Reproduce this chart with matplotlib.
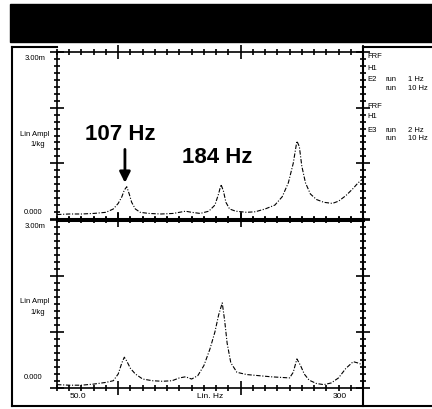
import matplotlib
matplotlib.use("Agg")
import matplotlib.pyplot as plt
from matplotlib.lines import Line2D
from matplotlib.patches import Rectangle
from matplotlib.ticker import MultipleLocator

plt.rcParams['font.family'] = ['Liberation Sans', 'DejaVu Sans']

# frequency (Hz) and amplitude (1e-3 1/kg)
top_freq = [50, 60, 70, 80, 90, 96, 100, 103, 105, 107, 109, 111, 114, 118, 125,
            135, 145, 155, 160, 167, 174, 179, 182, 184, 186, 188, 191, 196, 205,
            212, 220, 228, 234, 239, 243, 246, 248, 250, 253, 257, 262, 268, 275,
            280, 286, 292, 296, 300]
top_amp = [0.08, 0.09, 0.09, 0.10, 0.12, 0.18, 0.28, 0.40, 0.52, 0.58, 0.45, 0.30,
           0.18, 0.12, 0.10, 0.09, 0.10, 0.14, 0.12, 0.10, 0.14, 0.25, 0.45, 0.62,
           0.50, 0.30, 0.18, 0.14, 0.12, 0.13, 0.18, 0.25, 0.40, 0.65, 1.00, 1.40,
           1.30, 0.95, 0.65, 0.45, 0.35, 0.30, 0.28, 0.32, 0.42, 0.55, 0.65, 0.72]

bot_freq = [50, 60, 70, 80, 90, 96, 100, 103, 105, 107, 110, 114, 120, 128, 136,
            144, 150, 155, 160, 165, 170, 175, 179, 182, 185, 187, 189, 192, 197,
            205, 215, 225, 240, 243, 246, 249, 252, 256, 262, 268, 274, 280, 286,
            292, 297, 300]
bot_amp = [0.06, 0.05, 0.05, 0.07, 0.10, 0.13, 0.25, 0.45, 0.55, 0.48, 0.35, 0.25,
           0.16, 0.13, 0.12, 0.13, 0.18, 0.20, 0.16, 0.22, 0.40, 0.70, 1.00, 1.30,
           1.52, 1.20, 0.80, 0.45, 0.28, 0.24, 0.22, 0.20, 0.18, 0.28, 0.52, 0.40,
           0.25, 0.14, 0.08, 0.06, 0.09, 0.18, 0.35, 0.47, 0.44, 0.40]

legend_lines = ["FRF", "H1", "E2", "FRF", "H1", "E3"]
legend_runs = [("run", "1 Hz"), ("run", "10 Hz"), ("run", "2 Hz"), ("run", "10 Hz")]

W, H = 432, 410
fig = plt.figure(figsize=(W / 100, H / 100), dpi=100)


def rect(x0, y0, x1, y1):
    return [x0 / W, 1 - y1 / H, (x1 - x0) / W, (y1 - y0) / H]


def px(x, y):
    return x / W, 1 - y / H


# black title band
fig.patches.append(Rectangle(px(10, 43), (W - 10) / W, 38 / H, transform=fig.transFigure,
                             color="black", zorder=0))

ax1 = fig.add_axes(rect(57, 53, 363, 220))
ax2 = fig.add_axes(rect(57, 221, 363, 389))

for ax, f, a in [(ax1, top_freq, top_amp), (ax2, bot_freq, bot_amp)]:
    ax.plot(f, [v * 1e-3 for v in a], color="black", lw=0.8,
            linestyle=(0, (4, 1.5, 1, 1.5)))
    ax.set_xlim(50, 300)
    ax.set_ylim(0, 3e-3)
    ax.xaxis.set_major_locator(MultipleLocator(100))
    ax.xaxis.set_minor_locator(MultipleLocator(10))
    ax.yaxis.set_major_locator(MultipleLocator(1e-3))
    ax.yaxis.set_minor_locator(MultipleLocator(0.125e-3))
    ax.tick_params(which="both", direction="inout", top=True, right=True,
                   labelbottom=False, labelleft=False, color="black")
    ax.tick_params(which="major", length=10, width=1.2)
    ax.tick_params(which="minor", length=4, width=1.2)
    for s in ax.spines.values():
        s.set_linewidth(1.2)

ax1.spines["bottom"].set_linewidth(2.2)
ax2.spines["top"].set_linewidth(2.2)

# annotations
ax1.annotate("", xy=(105.5, 0.6e-3), xytext=(105.5, 1.3e-3),
             arrowprops=dict(arrowstyle="-|>", color="black", lw=2, mutation_scale=16))
ax1.text(102, 1.53e-3, "107 Hz", ha="center", va="center", fontsize=16, fontweight="bold")
ax1.text(181, 1.13e-3, "184 Hz", ha="center", va="center", fontsize=16, fontweight="bold")

# frame lines
frame = [((12, 12), (48, 407)), ((12, 57), (48, 48)), ((12, 432), (407, 407)),
         ((363, 363), (48, 407)), ((363, 432), (48, 48))]
for xs, ys in frame:
    fig.add_artist(Line2D([x / W for x in xs], [1 - y / H for y in ys],
                          color="black", lw=1.5, transform=fig.transFigure))

# left strip labels
for y0 in (0, 168):
    fig.text(*px(35, 59 + y0), "3.00m", fontsize=5.5, ha="center", va="center")
    fig.text(*px(35, 134 + y0), "Lin Ampl", fontsize=5.5, ha="center", va="center")
    fig.text(*px(38, 145 + y0), "1/kg", fontsize=5.5, ha="center", va="center")
    fig.text(*px(33, 213 + y0 - (3 if y0 else 0)), "0.000", fontsize=5.5, ha="center", va="center")

# x labels
fig.text(*px(78, 397), "50.0", fontsize=6, ha="center", va="center")
fig.text(*px(210, 397), "Lin. Hz", fontsize=6, ha="center", va="center")
fig.text(*px(340, 397), "300", fontsize=6, ha="center", va="center")

# right legend text
ys = [57, 68, 80, 106, 117, 130]
for t, y in zip(legend_lines, ys):
    fig.text(*px(367, y), t, fontsize=5.5, ha="left", va="center")
for (r, hz), y in zip(legend_runs, [80, 89, 130, 139]):
    fig.text(*px(385, y), r, fontsize=5.5, ha="left", va="center")
    fig.text(*px(408, y), hz, fontsize=5.5, ha="left", va="center")

fig.savefig("out.png", dpi=100)
